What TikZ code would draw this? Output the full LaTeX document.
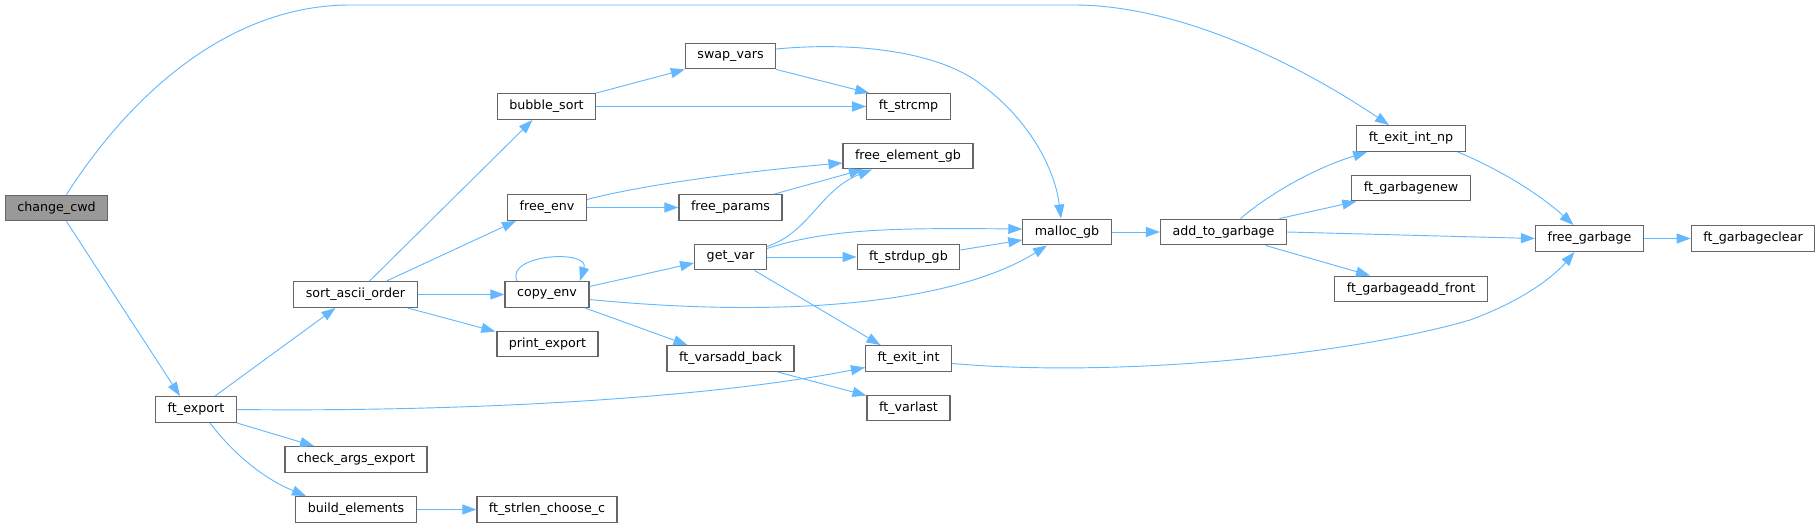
\documentclass[tikz,border=0pt]{standalone}
\usepackage{fontspec}
\setmainfont{DejaVu Sans}
\usetikzlibrary{
    arrows.meta,
    calc
}
\definecolor{edgeblue}{HTML}{63B8FF}
\definecolor{boxgray}{HTML}{666666}
\definecolor{rootgray}{HTML}{999999}
\tikzset{
    % Colors
    edge color/.style={edgeblue},
    box color/.style={draw=boxgray},
    %
    % Nodes
    func/.style={box color,line width=.9pt,rectangle,fill=white,inner xsep=9pt,inner ysep=0pt,minimum height=19.3pt,font=\fontsize{9.5}{11}\selectfont},
    root func/.style={func,fill=rootgray},
    %
    % Arrows
    arrow tip/.tip={Triangle[length=10.5pt,width=7.5pt]},
    arr/.style={->,>={arrow tip},edge color,line width=.7pt}
}

\begin{document}
\begin{tikzpicture}[x=.75pt,y=-.75pt]
    \useasboundingbox (0,0) rectangle (1820,527);

    % functions
    \node[root func] (change-cwd) at (56.5,208) {change\_cwd};
    \node[func] (ft-export) at (196,409.5) {ft\_export};
    \node[func] (sort-ascii) at (355.5,294.5) {sort\_ascii\_order};
    \node[func] (check-args) at (356,459.5) {check\_args\_export};
    \node[func] (build-elements) at (356,509.5) {build\_elements};
    \node[func] (bubble-sort) at (546.5,106.5) {bubble\_sort};
    \node[func] (free-env) at (547,207.5) {free\_env};
    \node[func] (copy-env) at (547,294.5) {copy\_env};
    \node[func] (print-export) at (547.5,344) {print\_export};
    \node[func] (strlen-choose) at (547,509.5) {ft\_strlen\_choose\_c};
    \node[func] (swap-vars) at (730.5,56) {swap\_vars};
    \node[func] (free-params) at (730.5,207.5) {free\_params};
    \node[func] (get-var) at (730.5,257) {get\_var};
    \node[func] (varsadd-back) at (730.5,358.5) {ft\_varsadd\_back};
    \node[func] (ft-strcmp) at (908.5,106.5) {ft\_strcmp};
    \node[func] (free-element) at (908,156) {free\_element\_gb};
    \node[func] (strdup-gb) at (908.5,257) {ft\_strdup\_gb};
    \node[func] (exit-int) at (908.5,358.5) {ft\_exit\_int};
    \node[func] (ft-varlast) at (908.5,408) {ft\_varlast};
    \node[func] (malloc-gb) at (1067,232) {malloc\_gb};
    \node[func] (add-garbage) at (1223.5,232) {add\_to\_garbage};
    \node[func] (exit-int-np) at (1411,138.5) {ft\_exit\_int\_np};
    \node[func] (garbagenew) at (1411,188) {ft\_garbagenew};
    \node[func] (garbageadd-front) at (1411,289) {ft\_garbageadd\_front};
    \node[func] (free-garbage) at (1589.5,238.5) {free\_garbage};
    \node[func] (garbage-clear) at (1753,238.5) {ft\_garbageclear};

    % calls
    \draw[arr] ($(change-cwd.north)+(10,0)$) .. controls (140,80) and (240,5) .. (350,5) -- (1074,5) .. controls (1180,5) and (1300,65) .. ($(exit-int-np.north)+(-22,0)$);
    \draw[arr] ($(change-cwd.south)+(10,0)$) -- ($(ft-export.north)+(-16,0)$);
    \draw[arr] ($(ft-export.north)+(19,0)$) -- ($(sort-ascii.south)+(-20,0)$);
    \draw[arr] (ft-export.east) .. controls (450,412) and (700,400) .. ($(exit-int.west)+(0,9)$);
    \draw[arr] (ft-export.south east) -- ($(check-args.north)+(-42,0)$);
    \draw[arr] ($(ft-export.south)+(14,0)$) .. controls +(25,33) and +(-41,-17) .. ($(build-elements.north)+(-50,0)$);
    \draw[arr] (build-elements.east) -- (strlen-choose.west);

    \draw[arr] ($(sort-ascii.north)+(14,0)$) -- ($(bubble-sort.south)+(-14,0)$);
    \draw[arr] ($(sort-ascii.north)+(31,0)$) -- ($(free-env.south)+(-31,0)$);
    \draw[arr] (sort-ascii.east) -- (copy-env.west);
    \draw[arr] ($(sort-ascii.south)+(52,0)$) -- ($(print-export.north west)+(-1,1)$);

    \draw[arr] ($(copy-env.north)+(-30,0)$) .. controls +(-12,-27) and +(10,-32) .. ($(copy-env.north)+(33,0)$);
    \draw[arr] ($(copy-env.east)+(0,-8)$) -- ($(get-var.west)+(0,6)$);
    \draw[arr] ($(copy-env.east)+(0,5)$) .. controls (800,320) and (960,300) .. ($(malloc-gb.south)+(-20,0)$);
    \draw[arr] ($(copy-env.south)+(38,0)$) -- ($(varsadd-back.north)+(-43,0)$);

    \draw[arr] (bubble-sort.north east) -- (swap-vars.south west);
    \draw[arr] (bubble-sort.east) -- (ft-strcmp.west);
    \draw[arr] (swap-vars.south east) -- ($(ft-strcmp.north west)+(3,0)$);
    \draw[arr] ($(swap-vars.east)+(0,-7)$) .. controls (850,42) and (930,50) .. (975,80) .. controls (1030,118) and (1055,170) .. ($(malloc-gb.north)+(-6,0)$);

    \draw[arr] ($(free-env.east)+(0,-8)$) .. controls (650,183) and (760,170) .. ($(free-element.west)+(0,7)$);
    \draw[arr] (free-env.east) -- (free-params.west);
    \draw[arr] ($(free-params.north)+(44,0)$) -- ($(free-element.south)+(-45,0)$);

    \draw[arr] ($(get-var.north east)+(0,3)$) .. controls (810,232) and (820,190) .. ($(free-element.south)+(-36,0)$);
    \draw[arr] ($(get-var.north east)+(0,5)$) .. controls (830,228) and (900,228) .. ($(malloc-gb.west)+(0,-3)$);
    \draw[arr] (get-var.east) -- (strdup-gb.west);
    \draw[arr] ($(get-var.south)+(24,0)$) -- ($(exit-int.north)+(-28,0)$);
    \draw[arr] ($(strdup-gb.east)+(0,-7)$) -- ($(malloc-gb.west)+(0,8)$);
    \draw[arr] ($(varsadd-back.south)+(47,0)$) -- ($(ft-varlast.north west)+(0,1)$);

    \draw[arr] (malloc-gb.east) -- (add-garbage.west);
    \draw[arr] ($(add-garbage.north)+(17,0)$) .. controls +(34,-29) and +(-46,14) .. ($(exit-int-np.south west)+(11,0)$);
    \draw[arr] ($(add-garbage.north)+(56,0)$) -- ($(garbagenew.south west)+(5,0)$);
    \draw[arr] (add-garbage.east) -- (free-garbage.west);
    \draw[arr] ($(add-garbage.south)+(42,0)$) -- ($(garbageadd-front.north)+(-41,0)$);

    \draw[arr] ($(exit-int-np.south east)+(-8,0)$) .. controls +(41,17) and +(-34,-31) .. ($(free-garbage.north)+(-16,0)$);
    \draw[arr] ($(exit-int.east)+(0,5)$) .. controls (1120,378) and (1350,355) .. (1470,320) .. controls (1525,300) and (1555,275) .. ($(free-garbage.south)+(-15,0)$);
    \draw[arr] (free-garbage.east) -- (garbage-clear.west);
\end{tikzpicture}
\end{document}
